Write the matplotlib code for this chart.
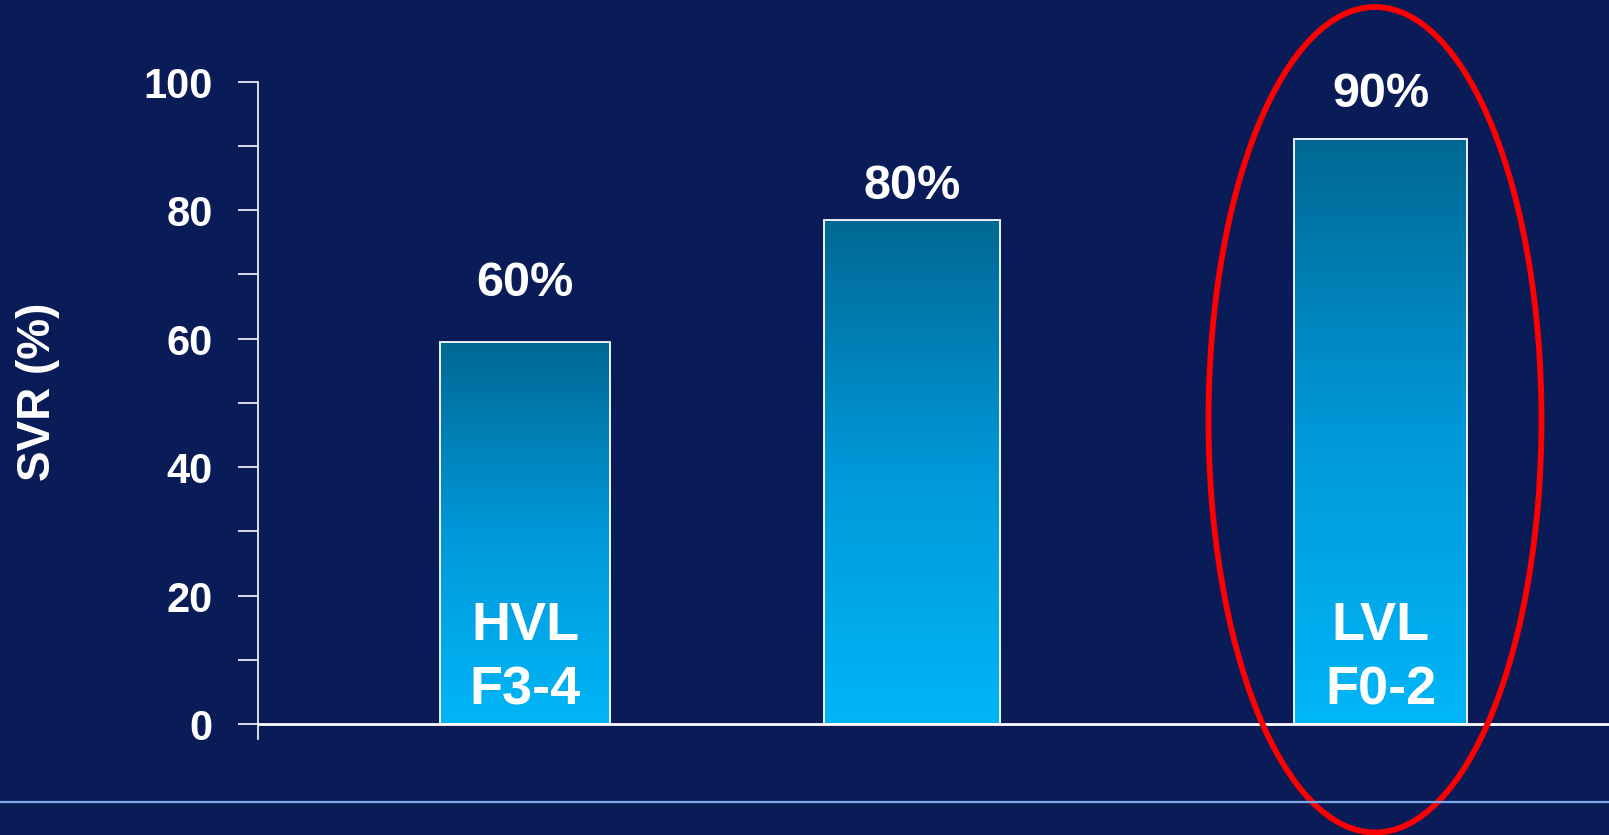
import numpy as np
import matplotlib.pyplot as plt
from matplotlib.patches import Ellipse
from matplotlib.lines import Line2D
from matplotlib.colors import LinearSegmentedColormap

# data
groups = ["HVL\nF3-4", "", "LVL\nF0-2"]
svr = [59.5, 78.5, 91.1]
value_labels = ["60%", "80%", "90%"]
major_ticks = [0, 20, 40, 60, 80, 100]
minor_ticks = [10, 30, 50, 70, 90]

bg = "#0a1c58"
plt.rcParams['font.family'] = ['Liberation Sans', 'DejaVu Sans']
plt.rcParams['font.weight'] = 'bold'

fig = plt.figure(figsize=(16.09, 8.355), dpi=100, facecolor=bg)
ax = fig.add_axes([0.1603, 0.115, 0.8397, 0.7868])
ax.set_facecolor(bg)

xpos = [0.69, 1.69, 2.90]
widths = [0.44, 0.455, 0.445]
label_y = [68.7, 83.7, 98.1]  # where the % labels sit

cmap = LinearSegmentedColormap.from_list("bar", ["#00b6f8", "#0098d8", "#006894"])
grad = np.linspace(0, 1, 256).reshape(-1, 1)

bars = ax.bar(xpos, svr, width=widths, color="none", edgecolor="white", linewidth=1.3, zorder=3)
for b in bars:
    x0 = b.get_x()
    h = b.get_height()
    im = ax.imshow(grad, extent=[x0, x0 + b.get_width(), 0, h], origin="lower",
                   aspect="auto", cmap=cmap, zorder=2)
    im.set_clip_path(b)

for x, txt, y in zip(xpos, value_labels, label_y):
    ax.text(x, y, txt, ha="center", va="center", color="white", fontsize=35, fontweight="bold")

for x, g in zip(xpos, groups):
    if g:
        ax.text(x, 10.3, g, ha="center", va="center", color="white", fontsize=39,
                fontweight="bold", linespacing=1.38, zorder=4)

ax.set_xlim(0, 3.49)
ax.set_ylim(-2.3, 100)
ax.axhline(0, color="white", linewidth=2.0, zorder=4)

ax.set_yticks(major_ticks)
ax.set_yticks(minor_ticks, minor=True)
ax.set_xticks([])
ax.tick_params(axis="y", which="both", direction="out", length=14.4, width=1.2,
               colors="white", labelsize=30, pad=18)
for lab in ax.get_yticklabels():
    lab.set_fontweight("bold")
for s in ["top", "right", "bottom"]:
    ax.spines[s].set_visible(False)
ax.spines["left"].set_color("white")
ax.spines["left"].set_linewidth(1.2)

fig.text(38 / 1609, 1 - 392 / 835, "SVR (%)", rotation=90, ha="center", va="center",
         color="white", fontsize=33, fontweight="bold")

# thin rule at the bottom of the slide
fig.add_artist(Line2D([0, 1], [1 - 802 / 835] * 2, transform=fig.transFigure,
                      color="#7aa8e6", linewidth=1.6))

# red ellipse around the last bar
fig.add_artist(Ellipse((1375 / 1609, 1 - 420 / 835), 333 / 1609, 825 / 835,
                       transform=fig.transFigure, fill=False, edgecolor="#ff0000", linewidth=4.2))

fig.savefig("out.png", dpi=100, facecolor=bg)
